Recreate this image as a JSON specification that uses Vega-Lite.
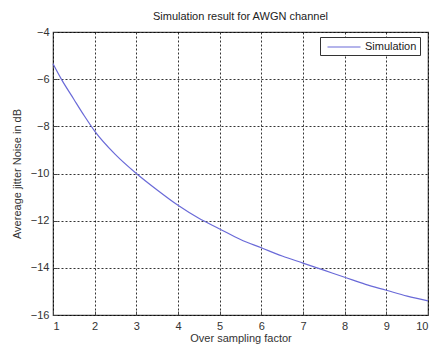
{
  "$schema": "https://vega.github.io/schema/vega-lite/v6.json",
  "autosize": {"type": "none"},
  "width": 375,
  "height": 283,
  "padding": {"left": 53, "top": 32, "right": 7, "bottom": 31},
  "background": "white",
  "title": {"text": "Simulation result for AWGN channel", "font": "Liberation Sans", "fontSize": 11, "fontWeight": "normal", "color": "#222", "offset": 4, "anchor": "middle"},
  "config": {
    "view": {"stroke": "#444", "strokeWidth": 1.2},
    "axis": {"labelFont": "Liberation Sans", "labelFontSize": 11, "labelColor": "#333", "titleFont": "Liberation Sans", "titleFontSize": 11, "titleFontWeight": "normal", "titleColor": "#333", "grid": true, "gridColor": "#000", "gridDash": [2, 2], "gridOpacity": 0.8, "domain": false, "tickColor": "#444", "tickSize": -4}
  },
  "data": {"values": [
    {"x": 1, "y": -5.35, "s": "Simulation"},
    {"x": 1.2, "y": -6.0, "s": "Simulation"},
    {"x": 1.5, "y": -6.85, "s": "Simulation"},
    {"x": 1.75, "y": -7.55, "s": "Simulation"},
    {"x": 2, "y": -8.2, "s": "Simulation"},
    {"x": 2.5, "y": -9.2, "s": "Simulation"},
    {"x": 3, "y": -10.0, "s": "Simulation"},
    {"x": 3.5, "y": -10.7, "s": "Simulation"},
    {"x": 4, "y": -11.35, "s": "Simulation"},
    {"x": 4.5, "y": -11.9, "s": "Simulation"},
    {"x": 5, "y": -12.35, "s": "Simulation"},
    {"x": 5.5, "y": -12.8, "s": "Simulation"},
    {"x": 6, "y": -13.15, "s": "Simulation"},
    {"x": 6.5, "y": -13.5, "s": "Simulation"},
    {"x": 7, "y": -13.8, "s": "Simulation"},
    {"x": 7.5, "y": -14.1, "s": "Simulation"},
    {"x": 8, "y": -14.4, "s": "Simulation"},
    {"x": 8.5, "y": -14.7, "s": "Simulation"},
    {"x": 9, "y": -14.95, "s": "Simulation"},
    {"x": 9.5, "y": -15.2, "s": "Simulation"},
    {"x": 10, "y": -15.4, "s": "Simulation"}
  ]},
  "mark": {"type": "line", "strokeWidth": 1.2, "interpolate": "monotone"},
  "encoding": {
    "x": {"field": "x", "type": "quantitative", "scale": {"domain": [1, 10], "nice": false}, "axis": {"values": [1,2,3,4,5,6,7,8,9,10], "title": "Over sampling factor", "titlePadding": 1, "labelPadding": 9}},
    "y": {"field": "y", "type": "quantitative", "scale": {"domain": [-16, -4], "nice": false}, "axis": {"values": [-16,-14,-12,-10,-8,-6,-4], "title": "Avereage jitter Noise in dB", "titlePadding": 8, "labelPadding": 8}},
    "color": {"field": "s", "type": "nominal", "scale": {"range": ["#6a6ad8"]}, "legend": {"title": null, "orient": "none", "legendX": 267, "legendY": 5, "symbolType": "M-2.75,0H2.75", "symbolSize": 144, "symbolStrokeWidth": 1.2, "labelFont": "Liberation Sans", "labelFontSize": 11, "labelColor": "#222", "strokeColor": "#333", "fillColor": "white", "padding": 3, "symbolOffset": 14, "labelOffset": 14}}
  }
}
